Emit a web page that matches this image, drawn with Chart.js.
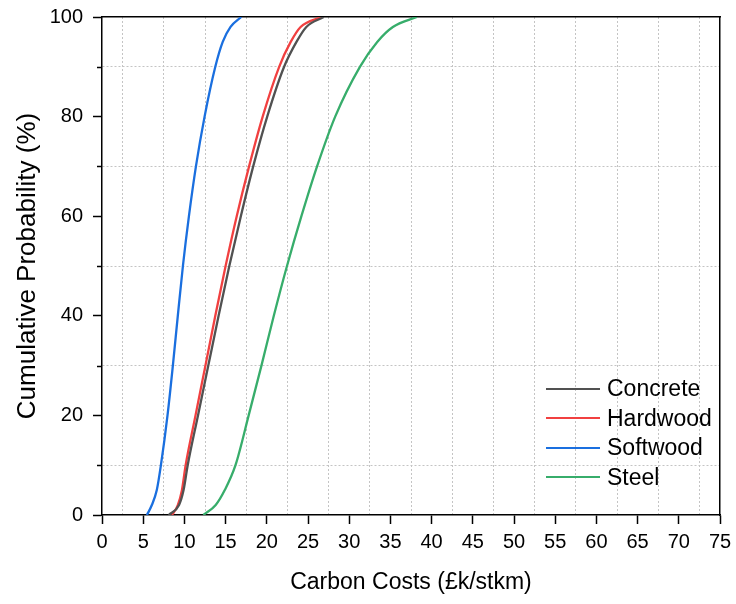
<!DOCTYPE html>
<html>
<head>
<meta charset="utf-8">
<script src="https://cdn.jsdelivr.net/npm/chart.js@4.4.0/dist/chart.umd.min.js"></script>
<style>
    body { margin: 0; background: #fff; }
    #wrap { position: relative; width: 736px; height: 604px; }
    #legend {
        position: absolute; left: 546px; top: 374px;
        font-family: "Liberation Sans", Arial, sans-serif; font-size: 23px; color: #000;
    }
    #legend .row { height: 29.5px; display: flex; align-items: center; }
    #legend .swatch { width: 54px; height: 2px; margin-right: 7px; }
</style>
</head>
<body>
<div id="wrap">
    <canvas id="cdf" width="736" height="604"></canvas>
    <div id="legend"></div>
</div>
<script>
// --- Data (cumulative probability vs carbon cost) ---
const seriesNames = ['Concrete', 'Hardwood', 'Softwood', 'Steel'];
const seriesColors = ['#515151', '#F14040', '#1A6FDF', '#37AD6B'];

const probLevels = [0, 2, 5, 10, 20, 30, 40, 50, 60, 70, 80, 90, 95, 98, 100];

const concreteCost = [8.1, 9.35, 9.9, 10.4, 11.65, 12.9, 14.15, 15.45, 16.85, 18.35, 20.05, 22.1, 23.6, 24.8, 26.9];
const hardwoodCost = [8.5, 9.2, 9.7, 10.15, 11.35, 12.55, 13.75, 15.0, 16.35, 17.85, 19.5, 21.5, 22.9, 24.1, 26.6];
const softwoodCost = [5.45, 6.05, 6.65, 7.15, 7.95, 8.6, 9.2, 9.82, 10.55, 11.4, 12.45, 13.75, 14.65, 15.6, 16.9];
const steelCost = [12.3, 13.8, 14.9, 16.2, 17.8, 19.35, 20.85, 22.45, 24.2, 26.1, 28.3, 31.3, 33.4, 35.3, 38.2];

const xTickValues = [0, 5, 10, 15, 20, 25, 30, 35, 40, 45, 50, 55, 60, 65, 70, 75];
const yTickValues = [0, 20, 40, 60, 80, 100];
const yMinorValues = [10, 30, 50, 70, 90];

const xLabel = 'Carbon Costs (£k/stkm)';
const yLabel = 'Cumulative Probability (%)';

const FONT = '"Liberation Sans", Arial, sans-serif';
const GRID_GREY = '#c4c4c4';

function toPoints(costs) {
    return costs.map((c, i) => ({ x: c, y: probLevels[i] }));
}

const allCosts = [concreteCost, hardwoodCost, softwoodCost, steelCost];

const datasets = seriesNames.map((name, i) => ({
    label: name,
    data: toPoints(allCosts[i]),
    borderColor: seriesColors[i],
    backgroundColor: seriesColors[i],
    borderWidth: 2.3,
    pointRadius: 0,
    cubicInterpolationMode: 'monotone',
    fill: false
}));

const isOn = (v, list) => list.some(t => Math.abs(t - v) < 1e-6);

// minor tick marks on the left axis (shorter than the major ones)
const minorTicks = {
    id: 'minorTicks',
    afterDraw(chart) {
        const y = chart.scales.y;
        const ctx = chart.ctx;
        ctx.save();
        ctx.strokeStyle = '#000';
        ctx.lineWidth = 1.5;
        yMinorValues.forEach(v => {
            const py = Math.round(y.getPixelForValue(v)) + 0.5;
            ctx.beginPath();
            ctx.moveTo(y.right - 5, py);
            ctx.lineTo(y.right, py);
            ctx.stroke();
        });
        ctx.restore();
    }
};

new Chart(document.getElementById('cdf'), {
    type: 'line',
    data: { datasets },
    plugins: [minorTicks],
    options: {
        responsive: false,
        animation: false,
        layout: { padding: { top: 17, right: 16, left: 0, bottom: 0 } },
        plugins: {
            legend: { display: false },
            tooltip: { enabled: false }
        },
        scales: {
            x: {
                type: 'linear',
                min: 0,
                max: 75,
                afterFit(scale) {
                    scale.height = 89;
                    scale.paddingLeft = 0;
                    scale.paddingRight = 0;
                },
                ticks: {
                    stepSize: 2.5,
                    autoSkip: false,
                    maxRotation: 0,
                    padding: 6,
                    color: '#000',
                    font: { family: FONT, size: 20 },
                    callback: v => isOn(v, xTickValues) ? String(v) : ''
                },
                grid: {
                    color: c => (c.tick && isOn(c.tick.value, xTickValues)) ? 'rgba(0,0,0,0)' : GRID_GREY,
                    tickColor: c => (c.tick && isOn(c.tick.value, xTickValues)) ? '#000' : 'rgba(0,0,0,0)',
                    tickLength: 9,
                    tickWidth: 1.5,
                    lineWidth: 1
                },
                border: { color: '#000', width: 1.5, dash: [2, 2] },
                title: {
                    display: true,
                    text: xLabel,
                    color: '#000',
                    font: { family: FONT, size: 23 },
                    padding: { top: 0, bottom: 8 }
                }
            },
            y: {
                type: 'linear',
                min: 0,
                max: 100,
                afterFit(scale) {
                    scale.width = 102;
                    scale.paddingTop = 0;
                    scale.paddingBottom = 0;
                },
                ticks: {
                    stepSize: 10,
                    autoSkip: false,
                    padding: 10,
                    color: '#000',
                    font: { family: FONT, size: 20 },
                    callback: v => isOn(v, yTickValues) ? String(v) : ''
                },
                grid: {
                    color: c => (c.tick && isOn(c.tick.value, yTickValues)) ? 'rgba(0,0,0,0)' : GRID_GREY,
                    tickColor: c => (c.tick && isOn(c.tick.value, yTickValues)) ? '#000' : 'rgba(0,0,0,0)',
                    tickLength: 9,
                    tickWidth: 1.5,
                    lineWidth: 1
                },
                border: { color: '#000', width: 1.5, dash: [2, 2] },
                title: {
                    display: true,
                    text: yLabel,
                    color: '#000',
                    font: { family: FONT, size: 26 },
                    padding: { top: 12, bottom: 0 }
                }
            },
            // top and right frame lines
            xTop: {
                type: 'linear',
                position: 'top',
                min: 0,
                max: 75,
                afterFit(scale) { scale.height = 0; },
                ticks: { display: false },
                grid: { display: false },
                border: { display: true, color: '#000', width: 1.5 }
            },
            yRight: {
                type: 'linear',
                position: 'right',
                min: 0,
                max: 100,
                afterFit(scale) { scale.width = 0; },
                ticks: { display: false },
                grid: { display: false },
                border: { display: true, color: '#000', width: 1.5 }
            }
        }
    }
});

// legend in the lower right of the plot
const legendEl = document.getElementById('legend');
seriesNames.forEach((name, i) => {
    const row = document.createElement('div');
    row.className = 'row';
    const sw = document.createElement('span');
    sw.className = 'swatch';
    sw.style.background = seriesColors[i];
    const label = document.createElement('span');
    label.textContent = name;
    row.appendChild(sw);
    row.appendChild(label);
    legendEl.appendChild(row);
});
</script>
</body>
</html>
